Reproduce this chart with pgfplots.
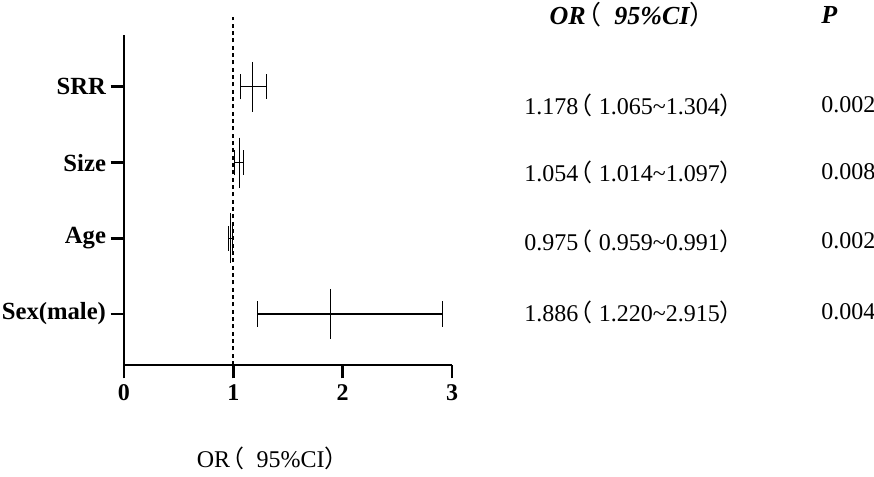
\documentclass[border=0pt]{standalone}
\usepackage{fontspec}
\setmainfont{Liberation Serif}
\newfontfamily\cjk{Noto Sans CJK SC}
\usepackage{pgfplots}
\pgfplotsset{compat=1.18}
\newcommand{\lp}{\kern-0.4em{\cjk\mdseries\upshape （}}
\newcommand{\rp}{{\cjk\mdseries\upshape ）}}
\newcommand{\fs}[1]{\fontsize{#1}{#1}\selectfont}
\begin{document}
\begin{tikzpicture}
\useasboundingbox (0,0) rectangle (655.5pt,357pt);
\begin{axis}[
    at={(93pt,83.25pt)}, anchor=south west,
    scale only axis,
    width=246pt, height=247.5pt,
    axis lines=left,
    axis line style={-, line width=2.2pt},
    xmin=0, xmax=3,
    ymin=0.326, ymax=4.686,
    xtick={0,1,2,3},
    ytick={1,2,3,4},
    yticklabels={Sex(male),Age,Size,SRR},
    tick align=outside,
    major tick length=10pt,
    tick style={line width=2.2pt, black},
    /pgf/number format/assume math mode=true,
    xticklabel style={font=\bfseries\fs{18}, yshift=-1pt},
    yticklabel style={font=\bfseries\fs{18.5}},
    clip=false,
]
% reference line at OR = 1
\addplot[black, line width=1.5pt, dash pattern=on 3pt off 2.5pt] coordinates {(1,0.326) (1,4.92)};
% estimates with 95% CI
\addplot[
    only marks, mark=|, mark size=18.75pt, line width=1pt, black,
    error bars/.cd, x dir=both, x explicit,
    error mark=|, error mark options={mark size=9.4pt, line width=0.8pt, black},
    error bar style={line width=0.8pt, black},
] table[x=or, y=pos, x error plus=ep, x error minus=em] {
pos or    ep    em
4   1.178 0.126 0.113
3   1.054 0.043 0.040
2   0.975 0.016 0.016
1   1.886 1.029 0.666
};
% table at the right
\node[anchor=west, font=\bfseries\itshape\fs{19.5}] at (axis cs:3.85,4.95) {OR\lp\ \ 95\%CI\rp};
\node[anchor=west, font=\bfseries\itshape\fs{19.5}] at (axis cs:6.335,4.95) {P};
\node[anchor=west, font=\fs{18}] at (axis cs:3.62,3.76) {1.178\lp\ 1.065\textasciitilde1.304\rp};
\node[anchor=west, font=\fs{18}] at (axis cs:3.62,2.876) {1.054\lp\ 1.014\textasciitilde1.097\rp};
\node[anchor=west, font=\fs{18}] at (axis cs:3.62,1.964) {0.975\lp\ 0.959\textasciitilde0.991\rp};
\node[anchor=west, font=\fs{18}] at (axis cs:3.62,1.026) {1.886\lp\ 1.220\textasciitilde2.915\rp};
\node[anchor=west, font=\fs{18}] at (axis cs:6.335,3.76) {0.002};
\node[anchor=west, font=\fs{18}] at (axis cs:6.335,2.876) {0.008};
\node[anchor=west, font=\fs{18}] at (axis cs:6.335,1.964) {0.002};
\node[anchor=west, font=\fs{18}] at (axis cs:6.335,1.026) {0.004};
\node[font=\fs{18}] at (axis cs:1.36,-0.902) {OR\lp\ \ 95\%CI\rp};
\end{axis}
\end{tikzpicture}
\end{document}
